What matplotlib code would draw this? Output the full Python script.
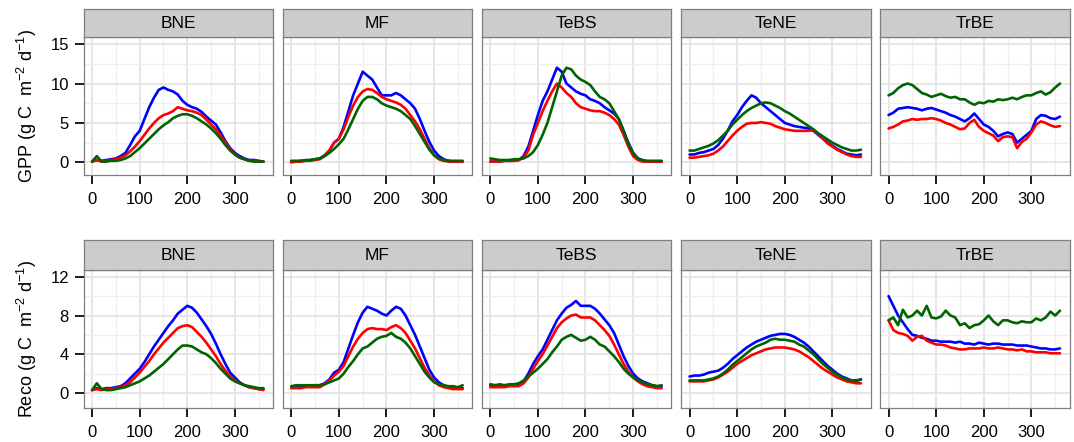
import numpy as np
import matplotlib
matplotlib.use("Agg")
import matplotlib.pyplot as plt

plt.rcParams['font.family'] = ['Liberation Sans', 'DejaVu Sans']
plt.rcParams['mathtext.fontset'] = 'custom'
plt.rcParams['mathtext.rm'] = 'Liberation Sans'
plt.rcParams['mathtext.it'] = 'Liberation Sans'

# sample days (every 10 days of the year)
days = list(range(0, 361, 10))
pfts = ["BNE", "MF", "TeBS", "TeNE", "TrBE"]

# ---- GPP (g C m-2 d-1) ----
gpp_bne_blue = [0.1, 0.3, 0.2, 0.3, 0.4, 0.5, 0.8, 1.2, 2.2, 3.3, 4.0, 5.5, 7.0, 8.2, 9.2, 9.5, 9.2, 9.0, 8.6, 7.8, 7.3, 7.0, 6.8, 6.4, 5.8, 5.3, 4.8, 3.8, 2.7, 1.8, 1.2, 0.8, 0.5, 0.3, 0.3, 0.2, 0.1]
gpp_bne_red = [0.1, 0.3, 0.1, 0.2, 0.3, 0.4, 0.6, 0.9, 1.4, 2.0, 2.7, 3.5, 4.3, 5.0, 5.6, 6.0, 6.2, 6.5, 7.0, 6.8, 6.6, 6.5, 6.3, 6.0, 5.4, 4.8, 4.2, 3.4, 2.5, 1.6, 1.0, 0.6, 0.4, 0.2, 0.2, 0.1, 0.1]
gpp_bne_green = [0.1, 0.8, 0.1, 0.1, 0.2, 0.2, 0.3, 0.5, 0.8, 1.3, 1.8, 2.4, 3.0, 3.6, 4.2, 4.7, 5.1, 5.6, 5.9, 6.1, 6.1, 5.9, 5.6, 5.2, 4.8, 4.3, 3.7, 3.0, 2.2, 1.5, 1.0, 0.6, 0.4, 0.2, 0.1, 0.1, 0.1]

gpp_mf_blue = [0.1, 0.1, 0.2, 0.2, 0.3, 0.4, 0.5, 0.9, 1.5, 2.5, 3.0, 4.5, 6.5, 8.5, 10.0, 11.5, 11.0, 10.5, 9.5, 8.5, 8.5, 8.5, 8.8, 8.5, 8.0, 7.5, 6.8, 5.5, 4.0, 2.6, 1.5, 0.8, 0.4, 0.2, 0.1, 0.1, 0.1]
gpp_mf_red = [0.0, 0.1, 0.1, 0.2, 0.2, 0.3, 0.4, 0.8, 1.5, 2.5, 3.0, 4.2, 5.8, 7.2, 8.3, 9.0, 9.3, 9.2, 8.8, 8.3, 8.0, 7.8, 7.6, 7.3, 6.8, 6.0, 5.2, 4.2, 3.0, 1.8, 0.9, 0.4, 0.2, 0.1, 0.1, 0.1, 0.1]
gpp_mf_green = [0.2, 0.2, 0.2, 0.3, 0.3, 0.4, 0.5, 0.8, 1.2, 1.7, 2.3, 3.0, 4.2, 5.5, 6.8, 7.8, 8.3, 8.3, 8.0, 7.5, 7.2, 7.0, 6.8, 6.5, 6.0, 5.5, 4.6, 3.6, 2.6, 1.6, 0.9, 0.5, 0.3, 0.2, 0.2, 0.2, 0.2]

gpp_tebs_blue = [0.1, 0.1, 0.1, 0.2, 0.2, 0.2, 0.3, 0.8, 2.0, 4.0, 6.0, 7.8, 9.0, 10.5, 12.0, 11.5, 10.0, 9.5, 9.0, 8.7, 8.5, 8.0, 7.8, 7.5, 7.0, 6.6, 6.2, 5.5, 4.0, 2.5, 1.2, 0.5, 0.2, 0.1, 0.1, 0.1, 0.1]
gpp_tebs_red = [0.1, 0.1, 0.1, 0.2, 0.2, 0.2, 0.3, 0.6, 1.5, 3.5, 5.0, 6.5, 7.8, 9.0, 10.0, 9.5, 8.8, 8.3, 7.5, 7.0, 6.8, 6.6, 6.5, 6.5, 6.3, 6.0, 5.5, 4.8, 3.5, 2.0, 0.8, 0.3, 0.1, 0.1, 0.1, 0.1, 0.1]
gpp_tebs_green = [0.5, 0.4, 0.3, 0.3, 0.3, 0.4, 0.4, 0.5, 0.8, 1.3, 2.2, 3.5, 5.0, 7.0, 9.0, 11.0, 12.0, 11.8, 11.0, 10.5, 10.2, 9.8, 9.0, 8.3, 8.0, 7.5, 6.5, 5.5, 4.0, 2.3, 1.2, 0.5, 0.3, 0.2, 0.2, 0.2, 0.2]

gpp_tene_blue = [1.0, 1.0, 1.2, 1.3, 1.5, 1.7, 2.2, 3.0, 4.0, 5.2, 6.0, 7.0, 7.8, 8.5, 8.2, 7.5, 7.0, 6.5, 6.0, 5.5, 5.0, 4.8, 4.6, 4.5, 4.4, 4.3, 4.0, 3.5, 3.0, 2.5, 2.1, 1.7, 1.4, 1.1, 1.0, 0.9, 1.0]
gpp_tene_red = [0.6, 0.6, 0.7, 0.8, 0.9, 1.1, 1.5, 2.0, 2.7, 3.4, 4.0, 4.5, 4.9, 5.0, 5.0, 5.1, 5.0, 4.9, 4.6, 4.4, 4.2, 4.1, 4.0, 4.0, 4.0, 4.0, 4.1, 3.6, 3.0, 2.4, 2.0, 1.6, 1.3, 1.0, 0.8, 0.7, 0.7]
gpp_tene_green = [1.5, 1.5, 1.7, 1.9, 2.1, 2.4, 2.8, 3.4, 4.0, 4.8, 5.4, 6.0, 6.5, 6.9, 7.2, 7.5, 7.6, 7.5, 7.2, 6.9, 6.5, 6.2, 5.8, 5.4, 5.0, 4.6, 4.2, 3.7, 3.3, 2.9, 2.5, 2.2, 1.9, 1.7, 1.5, 1.5, 1.6]

gpp_trbe_blue = [6.0, 6.3, 6.8, 6.9, 7.0, 6.9, 6.8, 6.6, 6.8, 6.9, 6.7, 6.5, 6.3, 6.0, 5.8, 5.5, 5.2, 5.6, 6.2, 5.5, 4.8, 4.5, 4.0, 3.3, 3.6, 3.8, 3.6, 2.5, 3.0, 3.5, 4.0, 5.5, 6.0, 5.9, 5.6, 5.5, 5.8]
gpp_trbe_red = [4.3, 4.5, 4.8, 5.2, 5.3, 5.5, 5.4, 5.5, 5.5, 5.6, 5.5, 5.3, 5.0, 4.8, 4.5, 4.2, 4.3, 5.0, 5.4, 4.5, 4.0, 3.7, 3.4, 2.7, 3.2, 3.3, 3.2, 1.8, 2.6, 3.0, 3.8, 4.8, 5.2, 5.0, 4.7, 4.5, 4.6]
gpp_trbe_green = [8.5, 8.8, 9.4, 9.8, 10.0, 9.8, 9.3, 8.8, 8.6, 8.3, 8.5, 8.7, 8.4, 8.2, 8.3, 8.0, 8.0, 7.6, 7.3, 7.6, 7.5, 7.8, 7.7, 8.0, 7.9, 8.0, 8.2, 8.0, 8.3, 8.5, 8.5, 8.8, 9.0, 8.6, 8.9, 9.5, 10.0]

# ---- Reco (g C m-2 d-1) ----
reco_bne_blue = [0.3, 0.5, 0.4, 0.5, 0.5, 0.6, 0.7, 1.0, 1.5, 2.0, 2.5, 3.2, 4.0, 4.8, 5.5, 6.2, 6.9, 7.5, 8.2, 8.6, 9.0, 8.8, 8.3, 7.6, 6.9, 6.1, 5.1, 4.0, 3.0, 2.1, 1.6, 1.1, 0.8, 0.6, 0.5, 0.4, 0.4]
reco_bne_red = [0.3, 0.4, 0.3, 0.4, 0.4, 0.5, 0.6, 0.8, 1.1, 1.6, 2.1, 2.7, 3.3, 4.0, 4.6, 5.2, 5.7, 6.2, 6.7, 6.9, 7.0, 6.8, 6.3, 5.8, 5.2, 4.5, 3.8, 3.0, 2.3, 1.7, 1.3, 1.0, 0.8, 0.6, 0.5, 0.4, 0.3]
reco_bne_green = [0.3, 1.0, 0.4, 0.3, 0.3, 0.4, 0.5, 0.6, 0.8, 1.0, 1.2, 1.5, 1.8, 2.2, 2.6, 3.0, 3.5, 4.0, 4.5, 4.9, 4.9, 4.8, 4.5, 4.2, 4.0, 3.6, 3.1, 2.5, 2.0, 1.5, 1.2, 1.0, 0.8, 0.7, 0.6, 0.5, 0.5]

reco_mf_blue = [0.6, 0.6, 0.7, 0.7, 0.7, 0.8, 0.8, 1.0, 1.4, 2.1, 2.4, 3.2, 4.6, 6.0, 7.3, 8.3, 8.9, 8.7, 8.5, 8.2, 8.0, 8.5, 8.9, 8.7, 8.0, 7.0, 6.0, 4.8, 3.6, 2.4, 1.6, 1.1, 0.8, 0.6, 0.5, 0.5, 0.5]
reco_mf_red = [0.5, 0.5, 0.5, 0.6, 0.6, 0.6, 0.6, 0.9, 1.3, 1.8, 2.2, 2.8, 3.8, 4.8, 5.6, 6.2, 6.6, 6.7, 6.6, 6.6, 6.5, 6.8, 7.0, 6.7, 6.2, 5.4, 4.6, 3.6, 2.6, 1.8, 1.2, 0.8, 0.6, 0.5, 0.4, 0.4, 0.4]
reco_mf_green = [0.7, 0.8, 0.8, 0.8, 0.8, 0.8, 0.8, 0.9, 1.1, 1.3, 1.5, 2.0, 2.7, 3.3, 4.0, 4.6, 4.8, 5.2, 5.6, 5.8, 5.9, 6.2, 5.8, 5.6, 5.2, 4.6, 3.8, 3.0, 2.2, 1.6, 1.1, 0.9, 0.8, 0.7, 0.7, 0.6, 0.8]

reco_tebs_blue = [0.8, 0.8, 0.7, 0.8, 0.8, 0.9, 0.9, 1.2, 2.0, 3.0, 3.8, 4.5, 5.5, 6.5, 7.5, 8.2, 8.8, 9.1, 9.5, 9.0, 9.0, 9.0, 8.7, 8.2, 7.6, 7.0, 6.2, 5.0, 3.8, 2.8, 2.0, 1.5, 1.2, 1.0, 0.8, 0.7, 0.7]
reco_tebs_red = [0.6, 0.6, 0.6, 0.6, 0.7, 0.7, 0.7, 1.0, 1.6, 2.5, 3.3, 4.0, 4.9, 5.8, 6.7, 7.3, 7.7, 8.0, 8.1, 7.8, 7.8, 7.8, 7.5, 7.0, 6.5, 5.9, 5.0, 4.0, 3.0, 2.2, 1.6, 1.2, 0.9, 0.7, 0.6, 0.5, 0.5]
reco_tebs_green = [0.9, 0.8, 0.9, 0.8, 0.9, 0.9, 1.0, 1.3, 1.7, 2.1, 2.5, 3.0, 3.5, 4.2, 4.8, 5.5, 5.8, 6.0, 5.7, 5.4, 5.5, 5.8, 5.5, 5.0, 4.8, 4.3, 3.8, 3.2, 2.5, 2.0, 1.6, 1.3, 1.1, 0.9, 0.8, 0.7, 0.8]

reco_tene_blue = [1.7, 1.8, 1.8, 1.9, 2.1, 2.2, 2.3, 2.6, 3.0, 3.5, 3.9, 4.3, 4.7, 5.0, 5.3, 5.5, 5.7, 5.9, 6.0, 6.1, 6.1, 6.0, 5.8, 5.5, 5.2, 4.8, 4.3, 3.8, 3.3, 2.8, 2.4, 2.0, 1.7, 1.5, 1.3, 1.3, 1.4]
reco_tene_red = [1.2, 1.2, 1.2, 1.2, 1.3, 1.4, 1.6, 1.9, 2.2, 2.6, 3.0, 3.3, 3.6, 3.9, 4.1, 4.3, 4.5, 4.6, 4.7, 4.7, 4.7, 4.6, 4.5, 4.3, 4.0, 3.7, 3.3, 2.9, 2.5, 2.2, 1.9, 1.6, 1.4, 1.2, 1.1, 1.0, 1.0]
reco_tene_green = [1.3, 1.3, 1.3, 1.3, 1.4, 1.5, 1.7, 2.0, 2.4, 2.9, 3.3, 3.7, 4.1, 4.5, 4.8, 5.0, 5.2, 5.5, 5.6, 5.5, 5.5, 5.4, 5.3, 5.0, 4.8, 4.4, 4.0, 3.5, 3.0, 2.6, 2.2, 1.9, 1.6, 1.4, 1.3, 1.2, 1.4]

reco_trbe_blue = [10.0, 9.0, 8.0, 7.3, 6.6, 6.0, 5.9, 5.7, 5.6, 5.4, 5.4, 5.3, 5.3, 5.3, 5.2, 5.3, 5.1, 5.1, 5.0, 5.2, 5.1, 5.0, 5.1, 5.1, 5.0, 5.0, 5.0, 4.9, 4.9, 4.9, 4.8, 4.7, 4.6, 4.6, 4.5, 4.5, 4.6]
reco_trbe_red = [7.5, 6.5, 6.2, 6.1, 5.9, 5.4, 5.8, 5.9, 5.4, 5.2, 5.0, 5.0, 4.9, 4.7, 4.6, 4.5, 4.5, 4.6, 4.6, 4.6, 4.7, 4.6, 4.6, 4.7, 4.6, 4.5, 4.5, 4.4, 4.5, 4.3, 4.3, 4.2, 4.2, 4.2, 4.1, 4.1, 4.1]
reco_trbe_green = [7.5, 7.8, 7.0, 8.6, 7.8, 8.0, 8.5, 8.0, 9.0, 7.8, 7.7, 7.9, 8.5, 8.0, 7.8, 7.0, 7.2, 6.7, 7.0, 7.1, 7.5, 8.0, 7.4, 7.0, 7.5, 7.5, 7.3, 7.2, 7.4, 7.3, 7.3, 7.7, 7.5, 7.8, 8.4, 8.0, 8.5]

gpp_rows = [
    (gpp_bne_blue, gpp_bne_red, gpp_bne_green),
    (gpp_mf_blue, gpp_mf_red, gpp_mf_green),
    (gpp_tebs_blue, gpp_tebs_red, gpp_tebs_green),
    (gpp_tene_blue, gpp_tene_red, gpp_tene_green),
    (gpp_trbe_blue, gpp_trbe_red, gpp_trbe_green),
]
reco_rows = [
    (reco_bne_blue, reco_bne_red, reco_bne_green),
    (reco_mf_blue, reco_mf_red, reco_mf_green),
    (reco_tebs_blue, reco_tebs_red, reco_tebs_green),
    (reco_tene_blue, reco_tene_red, reco_tene_green),
    (reco_trbe_blue, reco_trbe_red, reco_trbe_green),
]

colors = ["#0000FF", "#FF0000", "#006400"]

W, H = 1074, 442
fig = plt.figure(figsize=(W / 100, H / 100), dpi=100)

panel_left = [83.5, 282.7, 481.7, 681.0, 880.0]
panel_w = 189.5
# (strip top, panel top, panel bottom) in pixels
rows_px = [(8.5, 37.0, 175.0), (240.0, 270.0, 408.0)]
ylims = [(-1.6, 15.9), (-1.55, 12.7)]
yticks = [[0, 5, 10, 15], [0, 4, 8, 12]]
yminor = [[2.5, 7.5, 12.5], [2, 6, 10]]
ylabels = [r'GPP (g C  m$^{-2}$ d$^{-1}$)', r'Reco (g C  m$^{-2}$ d$^{-1}$)']


def frac(x0, y_top, w, h):
    return [x0 / W, 1 - (y_top + h) / H, w / W, h / H]


for r, data in enumerate([gpp_rows, reco_rows]):
    s_top, p_top, p_bot = rows_px[r]
    for c in range(5):
        x0 = panel_left[c]
        ax = fig.add_axes(frac(x0, p_top, panel_w, p_bot - p_top))
        ax.set_facecolor('white')
        ax.set_xlim(-18, 380)
        ax.set_ylim(*ylims[r])
        ax.set_xticks([0, 100, 200, 300])
        ax.set_xticks([50, 150, 250, 350], minor=True)
        ax.set_yticks(yticks[r])
        ax.set_yticks(yminor[r], minor=True)
        ax.grid(which='major', color='#E2E2E2', lw=1.2)
        ax.grid(which='minor', color='#EFEFEF', lw=0.9)
        ax.set_axisbelow(True)
        for sp in ax.spines.values():
            sp.set_color('#7F7F7F')
            sp.set_linewidth(0.9)
        ax.tick_params(which='major', direction='out', length=6.5, width=1.4,
                       color='#1A1A1A', labelsize=12, labelcolor='black')
        ax.tick_params(axis='x', pad=6)
        ax.tick_params(axis='y', pad=4)
        ax.tick_params(which='minor', length=0)
        if c > 0:
            ax.tick_params(axis='y', left=False, labelleft=False)

        for vals, col in zip(data[c], colors):
            ax.plot(days, vals, color=col, lw=1.9, solid_capstyle='round',
                    solid_joinstyle='round')

        # strip header
        sax = fig.add_axes(frac(x0, s_top, panel_w, p_top - s_top))
        sax.set_facecolor('#CCCCCC')
        sax.set_xticks([])
        sax.set_yticks([])
        for sp in sax.spines.values():
            sp.set_color('#7F7F7F')
            sp.set_linewidth(0.9)
        sax.text(0.5, 0.48, pfts[c], ha='center', va='center', fontsize=12.5,
                 transform=sax.transAxes)

    # y-axis title, centred on the panel row
    fig.text(27 / W, 1 - (p_top + p_bot) / 2 / H, ylabels[r], rotation=90,
             ha='center', va='center', fontsize=13)

fig.savefig("out.png", dpi=100)
